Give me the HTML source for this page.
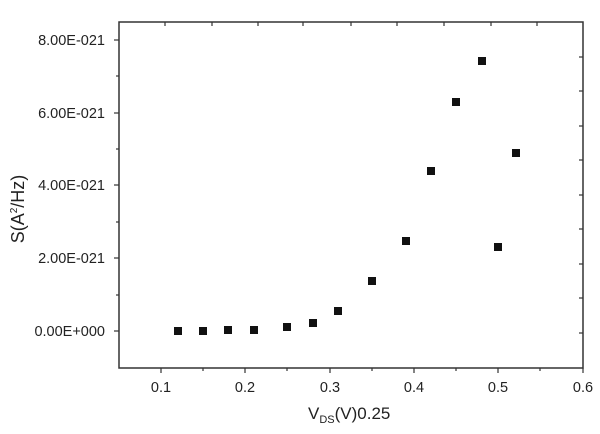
<!DOCTYPE html>
<html><head><style>body{margin:0;background:#fff}svg{display:block}</style></head><body>
<svg width="600" height="434" xmlns="http://www.w3.org/2000/svg" font-family="Liberation Sans, sans-serif" fill="#222">
<rect x="119" y="22" width="464" height="346" fill="none" stroke="#333" stroke-width="1.5"/>
<g stroke="#333" stroke-width="1.2">
<line x1="161" y1="368" x2="161" y2="373"/><line x1="245" y1="368" x2="245" y2="373"/><line x1="330" y1="368" x2="330" y2="373"/><line x1="414" y1="368" x2="414" y2="373"/><line x1="498" y1="368" x2="498" y2="373"/><line x1="583" y1="368" x2="583" y2="373"/>
<line x1="203" y1="368" x2="203" y2="371"/><line x1="287" y1="368" x2="287" y2="371"/><line x1="372" y1="368" x2="372" y2="371"/><line x1="456" y1="368" x2="456" y2="371"/><line x1="540" y1="368" x2="540" y2="371"/>
<line x1="119" y1="40" x2="114" y2="40"/><line x1="119" y1="113" x2="114" y2="113"/><line x1="119" y1="185" x2="114" y2="185"/><line x1="119" y1="258" x2="114" y2="258"/><line x1="119" y1="331" x2="114" y2="331"/>
<line x1="119" y1="76" x2="116" y2="76"/><line x1="119" y1="149" x2="116" y2="149"/><line x1="119" y1="222" x2="116" y2="222"/><line x1="119" y1="295" x2="116" y2="295"/>
<line x1="165" y1="22" x2="165" y2="26"/><line x1="212" y1="22" x2="212" y2="26"/><line x1="258" y1="22" x2="258" y2="26"/><line x1="303" y1="22" x2="303" y2="26"/><line x1="351" y1="22" x2="351" y2="26"/><line x1="397" y1="22" x2="397" y2="26"/><line x1="444" y1="22" x2="444" y2="26"/><line x1="491" y1="22" x2="491" y2="26"/><line x1="537" y1="22" x2="537" y2="26"/>
<line x1="583" y1="57" x2="579" y2="57"/><line x1="583" y1="91" x2="579" y2="91"/><line x1="583" y1="126" x2="579" y2="126"/><line x1="583" y1="160" x2="579" y2="160"/><line x1="583" y1="195" x2="579" y2="195"/><line x1="583" y1="229" x2="579" y2="229"/><line x1="583" y1="264" x2="579" y2="264"/><line x1="583" y1="298" x2="579" y2="298"/><line x1="583" y1="333" x2="579" y2="333"/>
</g>
<g font-size="14.5" text-anchor="end">
<text x="105" y="45">8.00E-021</text><text x="105" y="118">6.00E-021</text><text x="105" y="190">4.00E-021</text><text x="105" y="263">2.00E-021</text><text x="105" y="336">0.00E+000</text>
</g>
<g font-size="14.5" text-anchor="middle">
<text x="161" y="392">0.1</text><text x="245" y="392">0.2</text><text x="330" y="392">0.3</text><text x="414" y="392">0.4</text><text x="498" y="392">0.5</text><text x="583" y="392">0.6</text>
</g>
<text x="308" y="419" font-size="17">V<tspan font-size="11" dy="4">DS</tspan><tspan dy="-4">(V)0.25</tspan></text>
<text transform="translate(24,209) rotate(-90)" font-size="18" text-anchor="middle">S(A<tspan font-size="10" dy="-7">2</tspan><tspan dy="7">/Hz)</tspan></text>
<g fill="#111">
<rect x="174" y="327" width="8" height="8"/><rect x="199" y="327" width="8" height="8"/><rect x="224" y="326" width="8" height="8"/><rect x="250" y="326" width="8" height="8"/><rect x="283" y="323" width="8" height="8"/><rect x="309" y="319" width="8" height="8"/><rect x="334" y="307" width="8" height="8"/><rect x="368" y="277" width="8" height="8"/><rect x="402" y="237" width="8" height="8"/><rect x="427" y="167" width="8" height="8"/><rect x="452" y="98" width="8" height="8"/><rect x="478" y="57" width="8" height="8"/><rect x="494" y="243" width="8" height="8"/><rect x="512" y="149" width="8" height="8"/>
</g>
</svg>
</body></html>
